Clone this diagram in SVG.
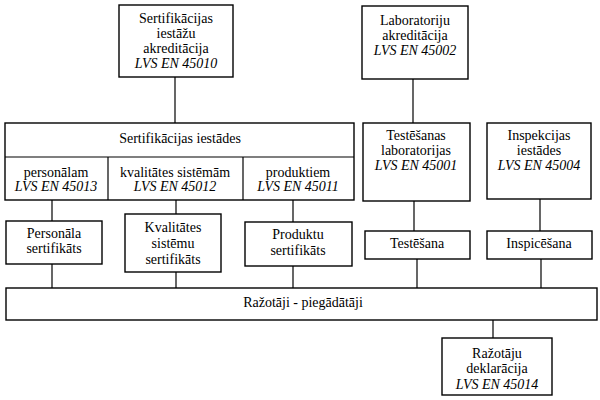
<svg xmlns="http://www.w3.org/2000/svg" width="600" height="400" viewBox="0 0 600 400">
<style>
.b{fill:#fff;stroke:#000;stroke-width:1.4}
.c{fill:none;stroke:#000;stroke-width:1.2}
.t{font-family:'Liberation Serif','Times New Roman','DejaVu Serif',Times,serif;font-size:14px;fill:#000;text-anchor:middle}
.i{font-style:italic}
</style>
<rect width="600" height="400" fill="#fff"/>
<g id="connectors">
<line class="c" x1="175" y1="77" x2="175" y2="123"/>
<line class="c" x1="413" y1="79" x2="413" y2="123"/>
<line class="c" x1="52" y1="200" x2="52" y2="221"/>
<line class="c" x1="176" y1="200" x2="176" y2="214"/>
<line class="c" x1="293" y1="200" x2="293" y2="222"/>
<line class="c" x1="414" y1="201" x2="414" y2="231"/>
<line class="c" x1="540" y1="199" x2="540" y2="231"/>
<line class="c" x1="52" y1="264" x2="52" y2="288"/>
<line class="c" x1="176" y1="272" x2="176" y2="288"/>
<line class="c" x1="293" y1="266" x2="293" y2="288"/>
<line class="c" x1="417" y1="259" x2="417" y2="288"/>
<line class="c" x1="541" y1="259" x2="541" y2="288"/>
<line class="c" x1="493" y1="320" x2="493" y2="338"/>
</g>
<g class="t" font-family="Liberation Serif, Times New Roman, serif">
<g id="n-sert-akred">
<rect class="b" x="119" y="5" width="114" height="72"/>
<text x="176" y="23">Sertifikācijas</text>
<text x="176" y="38">iestāžu</text>
<text x="176" y="53">akreditācija</text>
<text x="176" y="68" class="i">LVS EN 45010</text>
</g>
<g id="n-lab-akred">
<rect class="b" x="362" y="6" width="106" height="73"/>
<text x="415" y="25">Laboratoriju</text>
<text x="415" y="40">akreditācija</text>
<text x="415" y="55" class="i">LVS EN 45002</text>
</g>
<g id="n-sert-iest">
<rect class="b" x="5" y="123" width="349" height="77"/>
<line class="c" x1="5" y1="157" x2="354" y2="157"/>
<line class="c" x1="108" y1="157" x2="108" y2="200"/>
<line class="c" x1="243" y1="157" x2="243" y2="200"/>
<text x="180" y="143">Sertifikācijas iestādes</text>
<text x="56" y="177">personālam</text>
<text x="56" y="191" class="i">LVS EN 45013</text>
<text x="175" y="177">kvalitātes sistēmām</text>
<text x="175" y="191" class="i">LVS EN 45012</text>
<text x="298" y="177">produktiem</text>
<text x="298" y="191" class="i">LVS EN 45011</text>
</g>
<g id="n-test-lab">
<rect class="b" x="363" y="123" width="107" height="78"/>
<text x="416" y="140">Testēšanas</text>
<text x="416" y="155">laboratorijas</text>
<text x="416" y="170" class="i">LVS EN 45001</text>
</g>
<g id="n-insp-iest">
<rect class="b" x="487" y="123" width="104" height="76"/>
<text x="539" y="140">Inspekcijas</text>
<text x="539" y="155">iestādes</text>
<text x="539" y="170" class="i">LVS EN 45004</text>
</g>
<g id="n-pers-sert">
<rect class="b" x="6" y="221" width="96" height="43"/>
<text x="54" y="238">Personāla</text>
<text x="54" y="253">sertifikāts</text>
</g>
<g id="n-kval-sert">
<rect class="b" x="125" y="214" width="96" height="58"/>
<text x="173" y="232">Kvalitātes</text>
<text x="173" y="248">sistēmu</text>
<text x="173" y="264">sertifikāts</text>
</g>
<g id="n-prod-sert">
<rect class="b" x="245" y="222" width="107" height="44"/>
<text x="298" y="239">Produktu</text>
<text x="298" y="255">sertifikāts</text>
</g>
<g id="n-testesana">
<rect class="b" x="365" y="231" width="105" height="28"/>
<text x="417" y="248">Testēšana</text>
</g>
<g id="n-inspicesana">
<rect class="b" x="487" y="231" width="105" height="28"/>
<text x="539" y="248">Inspicēšana</text>
</g>
<g id="n-razotaji">
<rect class="b" x="6" y="288" width="591" height="32"/>
<text x="303" y="307">Ražotāji - piegādātāji</text>
</g>
<g id="n-deklaracija">
<rect class="b" x="442" y="338" width="110" height="57"/>
<text x="497" y="358">Ražotāju</text>
<text x="497" y="373">deklarācija</text>
<text x="497" y="389" class="i">LVS EN 45014</text>
</g>
</g>
</svg>
